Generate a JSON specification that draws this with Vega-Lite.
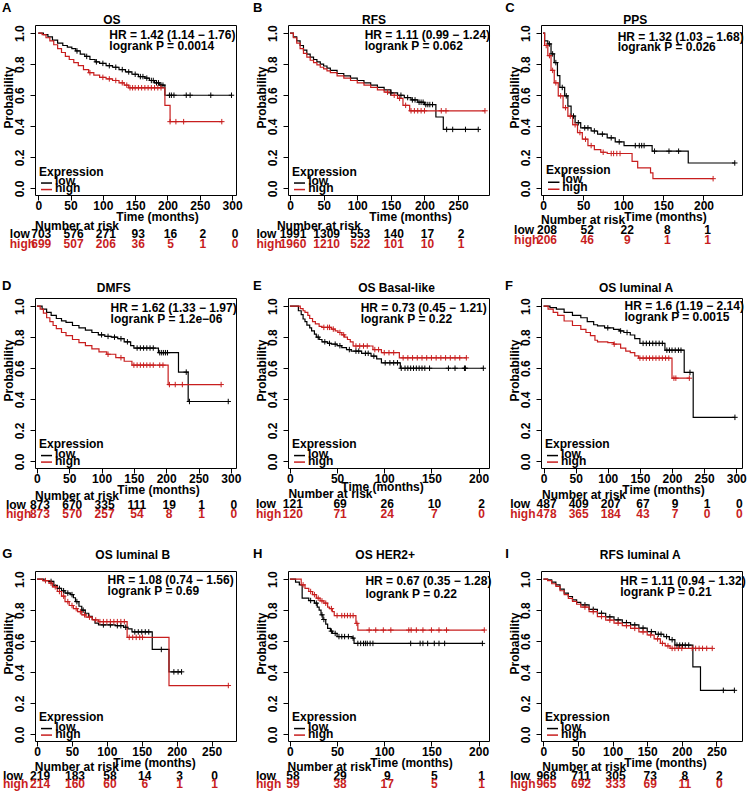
{
"$schema":"https://vega.github.io/schema/vega-lite/v6.json",
"background":"#ffffff",
"padding":{"left":1,"top":1,"right":2,"bottom":0},
"datasets":{
"km":[
{"p":"A","g":"low","t":0,"s":1},{"p":"A","g":"low","t":8,"s":0.99},{"p":"A","g":"low","t":15,"s":0.975},{"p":"A","g":"low","t":22,"s":0.955},{"p":"A","g":"low","t":30,"s":0.935},{"p":"A","g":"low","t":38,"s":0.92},{"p":"A","g":"low","t":45,"s":0.91},{"p":"A","g":"low","t":52,"s":0.9},{"p":"A","g":"low","t":58,"s":0.885},{"p":"A","g":"low","t":65,"s":0.865},{"p":"A","g":"low","t":72,"s":0.85},{"p":"A","g":"low","t":80,"s":0.83},{"p":"A","g":"low","t":88,"s":0.815},{"p":"A","g":"low","t":95,"s":0.805},{"p":"A","g":"low","t":105,"s":0.79},{"p":"A","g":"low","t":115,"s":0.78},{"p":"A","g":"low","t":125,"s":0.765},{"p":"A","g":"low","t":135,"s":0.75},{"p":"A","g":"low","t":145,"s":0.735},{"p":"A","g":"low","t":155,"s":0.72},{"p":"A","g":"low","t":165,"s":0.71},{"p":"A","g":"low","t":172,"s":0.695},{"p":"A","g":"low","t":180,"s":0.68},{"p":"A","g":"low","t":188,"s":0.665},{"p":"A","g":"low","t":196,"s":0.6},{"p":"A","g":"low","t":300,"s":0.6},
{"p":"A","g":"high","t":0,"s":1},{"p":"A","g":"high","t":6,"s":0.99},{"p":"A","g":"high","t":12,"s":0.97},{"p":"A","g":"high","t":18,"s":0.95},{"p":"A","g":"high","t":24,"s":0.925},{"p":"A","g":"high","t":30,"s":0.9},{"p":"A","g":"high","t":36,"s":0.875},{"p":"A","g":"high","t":42,"s":0.85},{"p":"A","g":"high","t":48,"s":0.83},{"p":"A","g":"high","t":55,"s":0.81},{"p":"A","g":"high","t":62,"s":0.79},{"p":"A","g":"high","t":70,"s":0.765},{"p":"A","g":"high","t":78,"s":0.745},{"p":"A","g":"high","t":86,"s":0.73},{"p":"A","g":"high","t":95,"s":0.715},{"p":"A","g":"high","t":105,"s":0.705},{"p":"A","g":"high","t":115,"s":0.695},{"p":"A","g":"high","t":125,"s":0.68},{"p":"A","g":"high","t":133,"s":0.665},{"p":"A","g":"high","t":140,"s":0.648},{"p":"A","g":"high","t":196,"s":0.535},{"p":"A","g":"high","t":204,"s":0.43},{"p":"A","g":"high","t":285,"s":0.43},
{"p":"B","g":"low","t":0,"s":1},{"p":"B","g":"low","t":5,"s":0.975},{"p":"B","g":"low","t":10,"s":0.95},{"p":"B","g":"low","t":15,"s":0.92},{"p":"B","g":"low","t":20,"s":0.89},{"p":"B","g":"low","t":25,"s":0.865},{"p":"B","g":"low","t":30,"s":0.845},{"p":"B","g":"low","t":35,"s":0.83},{"p":"B","g":"low","t":40,"s":0.815},{"p":"B","g":"low","t":45,"s":0.8},{"p":"B","g":"low","t":50,"s":0.788},{"p":"B","g":"low","t":55,"s":0.775},{"p":"B","g":"low","t":60,"s":0.76},{"p":"B","g":"low","t":70,"s":0.74},{"p":"B","g":"low","t":80,"s":0.725},{"p":"B","g":"low","t":90,"s":0.71},{"p":"B","g":"low","t":100,"s":0.695},{"p":"B","g":"low","t":110,"s":0.68},{"p":"B","g":"low","t":120,"s":0.665},{"p":"B","g":"low","t":130,"s":0.65},{"p":"B","g":"low","t":140,"s":0.635},{"p":"B","g":"low","t":150,"s":0.615},{"p":"B","g":"low","t":160,"s":0.6},{"p":"B","g":"low","t":170,"s":0.585},{"p":"B","g":"low","t":180,"s":0.57},{"p":"B","g":"low","t":190,"s":0.555},{"p":"B","g":"low","t":200,"s":0.54},{"p":"B","g":"low","t":217,"s":0.46},{"p":"B","g":"low","t":228,"s":0.38},{"p":"B","g":"low","t":280,"s":0.38},
{"p":"B","g":"high","t":0,"s":1},{"p":"B","g":"high","t":5,"s":0.97},{"p":"B","g":"high","t":10,"s":0.935},{"p":"B","g":"high","t":15,"s":0.9},{"p":"B","g":"high","t":20,"s":0.87},{"p":"B","g":"high","t":25,"s":0.845},{"p":"B","g":"high","t":30,"s":0.825},{"p":"B","g":"high","t":35,"s":0.81},{"p":"B","g":"high","t":40,"s":0.795},{"p":"B","g":"high","t":45,"s":0.78},{"p":"B","g":"high","t":50,"s":0.77},{"p":"B","g":"high","t":55,"s":0.757},{"p":"B","g":"high","t":60,"s":0.745},{"p":"B","g":"high","t":70,"s":0.725},{"p":"B","g":"high","t":80,"s":0.71},{"p":"B","g":"high","t":90,"s":0.695},{"p":"B","g":"high","t":100,"s":0.68},{"p":"B","g":"high","t":110,"s":0.665},{"p":"B","g":"high","t":120,"s":0.65},{"p":"B","g":"high","t":130,"s":0.635},{"p":"B","g":"high","t":140,"s":0.62},{"p":"B","g":"high","t":150,"s":0.6},{"p":"B","g":"high","t":160,"s":0.58},{"p":"B","g":"high","t":168,"s":0.535},{"p":"B","g":"high","t":178,"s":0.5},{"p":"B","g":"high","t":290,"s":0.5},
{"p":"C","g":"low","t":0,"s":1},{"p":"C","g":"low","t":2,"s":0.95},{"p":"C","g":"low","t":6,"s":0.93},{"p":"C","g":"low","t":10,"s":0.866},{"p":"C","g":"low","t":14,"s":0.81},{"p":"C","g":"low","t":18,"s":0.726},{"p":"C","g":"low","t":21,"s":0.65},{"p":"C","g":"low","t":27,"s":0.596},{"p":"C","g":"low","t":31,"s":0.53},{"p":"C","g":"low","t":35,"s":0.466},{"p":"C","g":"low","t":40,"s":0.423},{"p":"C","g":"low","t":47,"s":0.39},{"p":"C","g":"low","t":60,"s":0.37},{"p":"C","g":"low","t":68,"s":0.35},{"p":"C","g":"low","t":80,"s":0.326},{"p":"C","g":"low","t":90,"s":0.3},{"p":"C","g":"low","t":101,"s":0.276},{"p":"C","g":"low","t":136,"s":0.24},{"p":"C","g":"low","t":181,"s":0.164},{"p":"C","g":"low","t":239,"s":0.164},
{"p":"C","g":"high","t":0,"s":1},{"p":"C","g":"high","t":2,"s":0.92},{"p":"C","g":"high","t":6,"s":0.855},{"p":"C","g":"high","t":10,"s":0.76},{"p":"C","g":"high","t":14,"s":0.68},{"p":"C","g":"high","t":19,"s":0.596},{"p":"C","g":"high","t":25,"s":0.52},{"p":"C","g":"high","t":31,"s":0.466},{"p":"C","g":"high","t":37,"s":0.41},{"p":"C","g":"high","t":43,"s":0.36},{"p":"C","g":"high","t":49,"s":0.317},{"p":"C","g":"high","t":56,"s":0.276},{"p":"C","g":"high","t":64,"s":0.25},{"p":"C","g":"high","t":72,"s":0.233},{"p":"C","g":"high","t":80,"s":0.225},{"p":"C","g":"high","t":111,"s":0.175},{"p":"C","g":"high","t":118,"s":0.132},{"p":"C","g":"high","t":134,"s":0.1},{"p":"C","g":"high","t":137,"s":0.063},{"p":"C","g":"high","t":212,"s":0.063},
{"p":"D","g":"low","t":0,"s":1},{"p":"D","g":"low","t":8,"s":0.98},{"p":"D","g":"low","t":15,"s":0.96},{"p":"D","g":"low","t":22,"s":0.94},{"p":"D","g":"low","t":30,"s":0.92},{"p":"D","g":"low","t":38,"s":0.905},{"p":"D","g":"low","t":45,"s":0.895},{"p":"D","g":"low","t":55,"s":0.875},{"p":"D","g":"low","t":65,"s":0.86},{"p":"D","g":"low","t":75,"s":0.845},{"p":"D","g":"low","t":85,"s":0.83},{"p":"D","g":"low","t":95,"s":0.815},{"p":"D","g":"low","t":105,"s":0.805},{"p":"D","g":"low","t":115,"s":0.8},{"p":"D","g":"low","t":125,"s":0.79},{"p":"D","g":"low","t":135,"s":0.77},{"p":"D","g":"low","t":145,"s":0.745},{"p":"D","g":"low","t":150,"s":0.73},{"p":"D","g":"low","t":188,"s":0.7},{"p":"D","g":"low","t":219,"s":0.575},{"p":"D","g":"low","t":234,"s":0.386},{"p":"D","g":"low","t":296,"s":0.386},
{"p":"D","g":"high","t":0,"s":1},{"p":"D","g":"high","t":5,"s":0.98},{"p":"D","g":"high","t":10,"s":0.955},{"p":"D","g":"high","t":15,"s":0.925},{"p":"D","g":"high","t":20,"s":0.9},{"p":"D","g":"high","t":25,"s":0.875},{"p":"D","g":"high","t":30,"s":0.855},{"p":"D","g":"high","t":38,"s":0.83},{"p":"D","g":"high","t":45,"s":0.81},{"p":"D","g":"high","t":55,"s":0.785},{"p":"D","g":"high","t":65,"s":0.765},{"p":"D","g":"high","t":75,"s":0.745},{"p":"D","g":"high","t":85,"s":0.725},{"p":"D","g":"high","t":96,"s":0.705},{"p":"D","g":"high","t":108,"s":0.69},{"p":"D","g":"high","t":122,"s":0.668},{"p":"D","g":"high","t":135,"s":0.645},{"p":"D","g":"high","t":147,"s":0.62},{"p":"D","g":"high","t":203,"s":0.495},{"p":"D","g":"high","t":285,"s":0.495},
{"p":"E","g":"low","t":0,"s":1},{"p":"E","g":"low","t":9,"s":0.97},{"p":"E","g":"low","t":12,"s":0.945},{"p":"E","g":"low","t":14,"s":0.917},{"p":"E","g":"low","t":16,"s":0.9},{"p":"E","g":"low","t":18,"s":0.878},{"p":"E","g":"low","t":21,"s":0.86},{"p":"E","g":"low","t":23,"s":0.84},{"p":"E","g":"low","t":26,"s":0.82},{"p":"E","g":"low","t":28,"s":0.8},{"p":"E","g":"low","t":31,"s":0.785},{"p":"E","g":"low","t":34,"s":0.77},{"p":"E","g":"low","t":40,"s":0.76},{"p":"E","g":"low","t":44,"s":0.755},{"p":"E","g":"low","t":50,"s":0.745},{"p":"E","g":"low","t":55,"s":0.733},{"p":"E","g":"low","t":60,"s":0.72},{"p":"E","g":"low","t":65,"s":0.71},{"p":"E","g":"low","t":76,"s":0.696},{"p":"E","g":"low","t":86,"s":0.678},{"p":"E","g":"low","t":92,"s":0.66},{"p":"E","g":"low","t":97,"s":0.635},{"p":"E","g":"low","t":117,"s":0.6},{"p":"E","g":"low","t":205,"s":0.6},
{"p":"E","g":"high","t":0,"s":1},{"p":"E","g":"high","t":11,"s":0.983},{"p":"E","g":"high","t":14,"s":0.97},{"p":"E","g":"high","t":16,"s":0.96},{"p":"E","g":"high","t":19,"s":0.94},{"p":"E","g":"high","t":21,"s":0.92},{"p":"E","g":"high","t":24,"s":0.9},{"p":"E","g":"high","t":27,"s":0.885},{"p":"E","g":"high","t":31,"s":0.87},{"p":"E","g":"high","t":34,"s":0.863},{"p":"E","g":"high","t":44,"s":0.852},{"p":"E","g":"high","t":48,"s":0.84},{"p":"E","g":"high","t":51,"s":0.83},{"p":"E","g":"high","t":55,"s":0.815},{"p":"E","g":"high","t":58,"s":0.8},{"p":"E","g":"high","t":61,"s":0.785},{"p":"E","g":"high","t":64,"s":0.77},{"p":"E","g":"high","t":67,"s":0.743},{"p":"E","g":"high","t":88,"s":0.72},{"p":"E","g":"high","t":97,"s":0.7},{"p":"E","g":"high","t":116,"s":0.667},{"p":"E","g":"high","t":187,"s":0.667},
{"p":"F","g":"low","t":0,"s":1},{"p":"F","g":"low","t":10,"s":0.99},{"p":"F","g":"low","t":20,"s":0.98},{"p":"F","g":"low","t":32,"s":0.96},{"p":"F","g":"low","t":45,"s":0.94},{"p":"F","g":"low","t":58,"s":0.925},{"p":"F","g":"low","t":68,"s":0.9},{"p":"F","g":"low","t":78,"s":0.88},{"p":"F","g":"low","t":84,"s":0.872},{"p":"F","g":"low","t":95,"s":0.86},{"p":"F","g":"low","t":109,"s":0.85},{"p":"F","g":"low","t":118,"s":0.84},{"p":"F","g":"low","t":125,"s":0.83},{"p":"F","g":"low","t":135,"s":0.814},{"p":"F","g":"low","t":142,"s":0.79},{"p":"F","g":"low","t":150,"s":0.76},{"p":"F","g":"low","t":189,"s":0.716},{"p":"F","g":"low","t":219,"s":0.573},{"p":"F","g":"low","t":233,"s":0.284},{"p":"F","g":"low","t":298,"s":0.284},
{"p":"F","g":"high","t":0,"s":1},{"p":"F","g":"high","t":7,"s":0.98},{"p":"F","g":"high","t":15,"s":0.96},{"p":"F","g":"high","t":22,"s":0.94},{"p":"F","g":"high","t":32,"s":0.904},{"p":"F","g":"high","t":45,"s":0.875},{"p":"F","g":"high","t":58,"s":0.85},{"p":"F","g":"high","t":66,"s":0.83},{"p":"F","g":"high","t":73,"s":0.81},{"p":"F","g":"high","t":80,"s":0.78},{"p":"F","g":"high","t":84,"s":0.77},{"p":"F","g":"high","t":100,"s":0.765},{"p":"F","g":"high","t":109,"s":0.755},{"p":"F","g":"high","t":120,"s":0.73},{"p":"F","g":"high","t":128,"s":0.71},{"p":"F","g":"high","t":135,"s":0.7},{"p":"F","g":"high","t":142,"s":0.68},{"p":"F","g":"high","t":148,"s":0.665},{"p":"F","g":"high","t":200,"s":0.536},{"p":"F","g":"high","t":227,"s":0.536},
{"p":"G","g":"low","t":0,"s":1},{"p":"G","g":"low","t":10,"s":0.99},{"p":"G","g":"low","t":17,"s":0.985},{"p":"G","g":"low","t":24,"s":0.96},{"p":"G","g":"low","t":29,"s":0.94},{"p":"G","g":"low","t":35,"s":0.925},{"p":"G","g":"low","t":40,"s":0.91},{"p":"G","g":"low","t":48,"s":0.9},{"p":"G","g":"low","t":52,"s":0.88},{"p":"G","g":"low","t":55,"s":0.855},{"p":"G","g":"low","t":60,"s":0.825},{"p":"G","g":"low","t":64,"s":0.8},{"p":"G","g":"low","t":69,"s":0.78},{"p":"G","g":"low","t":74,"s":0.76},{"p":"G","g":"low","t":79,"s":0.74},{"p":"G","g":"low","t":83,"s":0.716},{"p":"G","g":"low","t":88,"s":0.705},{"p":"G","g":"low","t":112,"s":0.7},{"p":"G","g":"low","t":124,"s":0.69},{"p":"G","g":"low","t":130,"s":0.68},{"p":"G","g":"low","t":136,"s":0.66},{"p":"G","g":"low","t":165,"s":0.547},{"p":"G","g":"low","t":189,"s":0.403},{"p":"G","g":"low","t":207,"s":0.403},
{"p":"G","g":"high","t":0,"s":1},{"p":"G","g":"high","t":8,"s":0.99},{"p":"G","g":"high","t":17,"s":0.974},{"p":"G","g":"high","t":22,"s":0.95},{"p":"G","g":"high","t":29,"s":0.92},{"p":"G","g":"high","t":35,"s":0.89},{"p":"G","g":"high","t":40,"s":0.855},{"p":"G","g":"high","t":46,"s":0.83},{"p":"G","g":"high","t":52,"s":0.81},{"p":"G","g":"high","t":58,"s":0.79},{"p":"G","g":"high","t":64,"s":0.77},{"p":"G","g":"high","t":70,"s":0.755},{"p":"G","g":"high","t":79,"s":0.737},{"p":"G","g":"high","t":88,"s":0.726},{"p":"G","g":"high","t":129,"s":0.625},{"p":"G","g":"high","t":189,"s":0.315},{"p":"G","g":"high","t":274,"s":0.315},
{"p":"H","g":"low","t":0,"s":1},{"p":"H","g":"low","t":6,"s":0.98},{"p":"H","g":"low","t":10,"s":0.963},{"p":"H","g":"low","t":13,"s":0.877},{"p":"H","g":"low","t":20,"s":0.862},{"p":"H","g":"low","t":26,"s":0.845},{"p":"H","g":"low","t":29,"s":0.82},{"p":"H","g":"low","t":31,"s":0.8},{"p":"H","g":"low","t":33,"s":0.77},{"p":"H","g":"low","t":35,"s":0.74},{"p":"H","g":"low","t":38,"s":0.71},{"p":"H","g":"low","t":40,"s":0.683},{"p":"H","g":"low","t":43,"s":0.665},{"p":"H","g":"low","t":45,"s":0.65},{"p":"H","g":"low","t":50,"s":0.63},{"p":"H","g":"low","t":66,"s":0.62},{"p":"H","g":"low","t":68,"s":0.586},{"p":"H","g":"low","t":204,"s":0.586},
{"p":"H","g":"high","t":0,"s":1},{"p":"H","g":"high","t":12,"s":0.963},{"p":"H","g":"high","t":16,"s":0.94},{"p":"H","g":"high","t":20,"s":0.92},{"p":"H","g":"high","t":24,"s":0.9},{"p":"H","g":"high","t":28,"s":0.877},{"p":"H","g":"high","t":32,"s":0.86},{"p":"H","g":"high","t":36,"s":0.845},{"p":"H","g":"high","t":40,"s":0.82},{"p":"H","g":"high","t":42,"s":0.81},{"p":"H","g":"high","t":45,"s":0.79},{"p":"H","g":"high","t":47,"s":0.765},{"p":"H","g":"high","t":70,"s":0.715},{"p":"H","g":"high","t":72,"s":0.672},{"p":"H","g":"high","t":206,"s":0.672},
{"p":"I","g":"low","t":0,"s":1},{"p":"I","g":"low","t":6,"s":0.995},{"p":"I","g":"low","t":12,"s":0.98},{"p":"I","g":"low","t":18,"s":0.963},{"p":"I","g":"low","t":24,"s":0.935},{"p":"I","g":"low","t":30,"s":0.91},{"p":"I","g":"low","t":36,"s":0.888},{"p":"I","g":"low","t":42,"s":0.866},{"p":"I","g":"low","t":48,"s":0.85},{"p":"I","g":"low","t":54,"s":0.834},{"p":"I","g":"low","t":66,"s":0.805},{"p":"I","g":"low","t":78,"s":0.78},{"p":"I","g":"low","t":90,"s":0.757},{"p":"I","g":"low","t":102,"s":0.737},{"p":"I","g":"low","t":114,"s":0.72},{"p":"I","g":"low","t":126,"s":0.705},{"p":"I","g":"low","t":138,"s":0.685},{"p":"I","g":"low","t":150,"s":0.662},{"p":"I","g":"low","t":162,"s":0.645},{"p":"I","g":"low","t":174,"s":0.63},{"p":"I","g":"low","t":182,"s":0.61},{"p":"I","g":"low","t":190,"s":0.575},{"p":"I","g":"low","t":216,"s":0.435},{"p":"I","g":"low","t":227,"s":0.284},{"p":"I","g":"low","t":276,"s":0.284},
{"p":"I","g":"high","t":0,"s":1},{"p":"I","g":"high","t":6,"s":0.99},{"p":"I","g":"high","t":12,"s":0.97},{"p":"I","g":"high","t":18,"s":0.953},{"p":"I","g":"high","t":24,"s":0.925},{"p":"I","g":"high","t":30,"s":0.9},{"p":"I","g":"high","t":36,"s":0.876},{"p":"I","g":"high","t":42,"s":0.856},{"p":"I","g":"high","t":48,"s":0.838},{"p":"I","g":"high","t":54,"s":0.82},{"p":"I","g":"high","t":66,"s":0.79},{"p":"I","g":"high","t":78,"s":0.759},{"p":"I","g":"high","t":90,"s":0.736},{"p":"I","g":"high","t":102,"s":0.716},{"p":"I","g":"high","t":114,"s":0.7},{"p":"I","g":"high","t":126,"s":0.683},{"p":"I","g":"high","t":138,"s":0.66},{"p":"I","g":"high","t":150,"s":0.64},{"p":"I","g":"high","t":160,"s":0.615},{"p":"I","g":"high","t":169,"s":0.586},{"p":"I","g":"high","t":176,"s":0.57},{"p":"I","g":"high","t":183,"s":0.554},{"p":"I","g":"high","t":244,"s":0.554}
],
"cens":[
{"p":"A","g":"low","t":60,"s":0.885},{"p":"A","g":"low","t":75,"s":0.85},{"p":"A","g":"low","t":90,"s":0.815},{"p":"A","g":"low","t":100,"s":0.805},{"p":"A","g":"low","t":110,"s":0.79},{"p":"A","g":"low","t":120,"s":0.78},{"p":"A","g":"low","t":130,"s":0.765},{"p":"A","g":"low","t":140,"s":0.75},{"p":"A","g":"low","t":150,"s":0.735},{"p":"A","g":"low","t":158,"s":0.72},{"p":"A","g":"low","t":162,"s":0.72},{"p":"A","g":"low","t":168,"s":0.71},{"p":"A","g":"low","t":175,"s":0.695},{"p":"A","g":"low","t":178,"s":0.695},{"p":"A","g":"low","t":183,"s":0.68},{"p":"A","g":"low","t":186,"s":0.68},{"p":"A","g":"low","t":190,"s":0.665},{"p":"A","g":"low","t":193,"s":0.665},{"p":"A","g":"low","t":203,"s":0.6},{"p":"A","g":"low","t":206,"s":0.6},{"p":"A","g":"low","t":210,"s":0.6},{"p":"A","g":"low","t":229,"s":0.6},{"p":"A","g":"low","t":235,"s":0.6},{"p":"A","g":"low","t":267,"s":0.6},{"p":"A","g":"low","t":299,"s":0.6},
{"p":"A","g":"high","t":80,"s":0.745},{"p":"A","g":"high","t":100,"s":0.715},{"p":"A","g":"high","t":110,"s":0.705},{"p":"A","g":"high","t":120,"s":0.695},{"p":"A","g":"high","t":130,"s":0.68},{"p":"A","g":"high","t":137,"s":0.665},{"p":"A","g":"high","t":142,"s":0.648},{"p":"A","g":"high","t":146,"s":0.648},{"p":"A","g":"high","t":150,"s":0.648},{"p":"A","g":"high","t":155,"s":0.648},{"p":"A","g":"high","t":160,"s":0.648},{"p":"A","g":"high","t":165,"s":0.648},{"p":"A","g":"high","t":170,"s":0.648},{"p":"A","g":"high","t":175,"s":0.648},{"p":"A","g":"high","t":180,"s":0.648},{"p":"A","g":"high","t":185,"s":0.648},{"p":"A","g":"high","t":190,"s":0.648},{"p":"A","g":"high","t":204,"s":0.43},{"p":"A","g":"high","t":213,"s":0.43},{"p":"A","g":"high","t":225,"s":0.43},{"p":"A","g":"high","t":284,"s":0.43},
{"p":"B","g":"low","t":150,"s":0.615},{"p":"B","g":"low","t":165,"s":0.6},{"p":"B","g":"low","t":175,"s":0.585},{"p":"B","g":"low","t":182,"s":0.57},{"p":"B","g":"low","t":186,"s":0.57},{"p":"B","g":"low","t":192,"s":0.555},{"p":"B","g":"low","t":195,"s":0.555},{"p":"B","g":"low","t":198,"s":0.555},{"p":"B","g":"low","t":202,"s":0.54},{"p":"B","g":"low","t":205,"s":0.54},{"p":"B","g":"low","t":208,"s":0.54},{"p":"B","g":"low","t":212,"s":0.54},{"p":"B","g":"low","t":233,"s":0.38},{"p":"B","g":"low","t":242,"s":0.38},{"p":"B","g":"low","t":261,"s":0.38},{"p":"B","g":"low","t":280,"s":0.38},
{"p":"B","g":"high","t":145,"s":0.62},{"p":"B","g":"high","t":155,"s":0.6},{"p":"B","g":"high","t":163,"s":0.58},{"p":"B","g":"high","t":172,"s":0.535},{"p":"B","g":"high","t":180,"s":0.5},{"p":"B","g":"high","t":185,"s":0.5},{"p":"B","g":"high","t":190,"s":0.5},{"p":"B","g":"high","t":195,"s":0.5},{"p":"B","g":"high","t":200,"s":0.5},{"p":"B","g":"high","t":225,"s":0.5},{"p":"B","g":"high","t":232,"s":0.5},{"p":"B","g":"high","t":290,"s":0.5},
{"p":"C","g":"low","t":8,"s":0.93},{"p":"C","g":"low","t":12,"s":0.866},{"p":"C","g":"low","t":16,"s":0.81},{"p":"C","g":"low","t":24,"s":0.65},{"p":"C","g":"low","t":29,"s":0.596},{"p":"C","g":"low","t":38,"s":0.466},{"p":"C","g":"low","t":44,"s":0.423},{"p":"C","g":"low","t":52,"s":0.39},{"p":"C","g":"low","t":56,"s":0.39},{"p":"C","g":"low","t":64,"s":0.37},{"p":"C","g":"low","t":74,"s":0.35},{"p":"C","g":"low","t":85,"s":0.326},{"p":"C","g":"low","t":95,"s":0.3},{"p":"C","g":"low","t":115,"s":0.276},{"p":"C","g":"low","t":120,"s":0.276},{"p":"C","g":"low","t":123,"s":0.276},{"p":"C","g":"low","t":126,"s":0.276},{"p":"C","g":"low","t":139,"s":0.24},{"p":"C","g":"low","t":157,"s":0.24},{"p":"C","g":"low","t":169,"s":0.24},{"p":"C","g":"low","t":239,"s":0.164},
{"p":"C","g":"high","t":4,"s":0.92},{"p":"C","g":"high","t":8,"s":0.855},{"p":"C","g":"high","t":12,"s":0.76},{"p":"C","g":"high","t":16,"s":0.68},{"p":"C","g":"high","t":22,"s":0.596},{"p":"C","g":"high","t":28,"s":0.52},{"p":"C","g":"high","t":34,"s":0.466},{"p":"C","g":"high","t":40,"s":0.41},{"p":"C","g":"high","t":46,"s":0.36},{"p":"C","g":"high","t":53,"s":0.317},{"p":"C","g":"high","t":60,"s":0.276},{"p":"C","g":"high","t":75,"s":0.233},{"p":"C","g":"high","t":85,"s":0.225},{"p":"C","g":"high","t":88,"s":0.225},{"p":"C","g":"high","t":92,"s":0.225},{"p":"C","g":"high","t":96,"s":0.225},{"p":"C","g":"high","t":212,"s":0.063},
{"p":"D","g":"low","t":100,"s":0.815},{"p":"D","g":"low","t":110,"s":0.805},{"p":"D","g":"low","t":120,"s":0.8},{"p":"D","g":"low","t":130,"s":0.79},{"p":"D","g":"low","t":140,"s":0.77},{"p":"D","g":"low","t":155,"s":0.73},{"p":"D","g":"low","t":160,"s":0.73},{"p":"D","g":"low","t":165,"s":0.73},{"p":"D","g":"low","t":170,"s":0.73},{"p":"D","g":"low","t":175,"s":0.73},{"p":"D","g":"low","t":180,"s":0.73},{"p":"D","g":"low","t":190,"s":0.7},{"p":"D","g":"low","t":193,"s":0.7},{"p":"D","g":"low","t":196,"s":0.7},{"p":"D","g":"low","t":199,"s":0.7},{"p":"D","g":"low","t":202,"s":0.7},{"p":"D","g":"low","t":231,"s":0.575},{"p":"D","g":"low","t":236,"s":0.386},{"p":"D","g":"low","t":296,"s":0.386},
{"p":"D","g":"high","t":110,"s":0.69},{"p":"D","g":"high","t":130,"s":0.668},{"p":"D","g":"high","t":150,"s":0.62},{"p":"D","g":"high","t":155,"s":0.62},{"p":"D","g":"high","t":160,"s":0.62},{"p":"D","g":"high","t":165,"s":0.62},{"p":"D","g":"high","t":170,"s":0.62},{"p":"D","g":"high","t":175,"s":0.62},{"p":"D","g":"high","t":180,"s":0.62},{"p":"D","g":"high","t":190,"s":0.62},{"p":"D","g":"high","t":195,"s":0.62},{"p":"D","g":"high","t":205,"s":0.495},{"p":"D","g":"high","t":214,"s":0.495},{"p":"D","g":"high","t":225,"s":0.495},{"p":"D","g":"high","t":285,"s":0.495},
{"p":"E","g":"low","t":30,"s":0.8},{"p":"E","g":"low","t":37,"s":0.77},{"p":"E","g":"low","t":42,"s":0.76},{"p":"E","g":"low","t":48,"s":0.755},{"p":"E","g":"low","t":53,"s":0.745},{"p":"E","g":"low","t":63,"s":0.72},{"p":"E","g":"low","t":70,"s":0.71},{"p":"E","g":"low","t":73,"s":0.71},{"p":"E","g":"low","t":80,"s":0.696},{"p":"E","g":"low","t":83,"s":0.696},{"p":"E","g":"low","t":89,"s":0.678},{"p":"E","g":"low","t":101,"s":0.635},{"p":"E","g":"low","t":106,"s":0.635},{"p":"E","g":"low","t":110,"s":0.635},{"p":"E","g":"low","t":114,"s":0.635},{"p":"E","g":"low","t":118,"s":0.6},{"p":"E","g":"low","t":122,"s":0.6},{"p":"E","g":"low","t":125,"s":0.6},{"p":"E","g":"low","t":128,"s":0.6},{"p":"E","g":"low","t":131,"s":0.6},{"p":"E","g":"low","t":134,"s":0.6},{"p":"E","g":"low","t":137,"s":0.6},{"p":"E","g":"low","t":140,"s":0.6},{"p":"E","g":"low","t":143,"s":0.6},{"p":"E","g":"low","t":148,"s":0.6},{"p":"E","g":"low","t":168,"s":0.6},{"p":"E","g":"low","t":175,"s":0.6},{"p":"E","g":"low","t":185,"s":0.6},{"p":"E","g":"low","t":186,"s":0.6},{"p":"E","g":"low","t":205,"s":0.6},
{"p":"E","g":"high","t":36,"s":0.863},{"p":"E","g":"high","t":40,"s":0.863},{"p":"E","g":"high","t":42,"s":0.863},{"p":"E","g":"high","t":46,"s":0.852},{"p":"E","g":"high","t":53,"s":0.83},{"p":"E","g":"high","t":57,"s":0.815},{"p":"E","g":"high","t":70,"s":0.743},{"p":"E","g":"high","t":74,"s":0.743},{"p":"E","g":"high","t":78,"s":0.743},{"p":"E","g":"high","t":82,"s":0.743},{"p":"E","g":"high","t":90,"s":0.72},{"p":"E","g":"high","t":94,"s":0.72},{"p":"E","g":"high","t":100,"s":0.7},{"p":"E","g":"high","t":105,"s":0.7},{"p":"E","g":"high","t":110,"s":0.7},{"p":"E","g":"high","t":120,"s":0.667},{"p":"E","g":"high","t":125,"s":0.667},{"p":"E","g":"high","t":130,"s":0.667},{"p":"E","g":"high","t":135,"s":0.667},{"p":"E","g":"high","t":140,"s":0.667},{"p":"E","g":"high","t":145,"s":0.667},{"p":"E","g":"high","t":150,"s":0.667},{"p":"E","g":"high","t":155,"s":0.667},{"p":"E","g":"high","t":160,"s":0.667},{"p":"E","g":"high","t":165,"s":0.667},{"p":"E","g":"high","t":170,"s":0.667},{"p":"E","g":"high","t":175,"s":0.667},{"p":"E","g":"high","t":180,"s":0.667},{"p":"E","g":"high","t":187,"s":0.667},
{"p":"F","g":"low","t":100,"s":0.86},{"p":"F","g":"low","t":120,"s":0.84},{"p":"F","g":"low","t":130,"s":0.83},{"p":"F","g":"low","t":155,"s":0.76},{"p":"F","g":"low","t":160,"s":0.76},{"p":"F","g":"low","t":165,"s":0.76},{"p":"F","g":"low","t":170,"s":0.76},{"p":"F","g":"low","t":175,"s":0.76},{"p":"F","g":"low","t":180,"s":0.76},{"p":"F","g":"low","t":185,"s":0.76},{"p":"F","g":"low","t":192,"s":0.716},{"p":"F","g":"low","t":196,"s":0.716},{"p":"F","g":"low","t":200,"s":0.716},{"p":"F","g":"low","t":205,"s":0.716},{"p":"F","g":"low","t":210,"s":0.716},{"p":"F","g":"low","t":214,"s":0.716},{"p":"F","g":"low","t":228,"s":0.573},{"p":"F","g":"low","t":298,"s":0.284},
{"p":"F","g":"high","t":110,"s":0.755},{"p":"F","g":"high","t":150,"s":0.665},{"p":"F","g":"high","t":155,"s":0.665},{"p":"F","g":"high","t":160,"s":0.665},{"p":"F","g":"high","t":165,"s":0.665},{"p":"F","g":"high","t":170,"s":0.665},{"p":"F","g":"high","t":175,"s":0.665},{"p":"F","g":"high","t":180,"s":0.665},{"p":"F","g":"high","t":185,"s":0.665},{"p":"F","g":"high","t":190,"s":0.665},{"p":"F","g":"high","t":195,"s":0.665},{"p":"F","g":"high","t":203,"s":0.536},{"p":"F","g":"high","t":206,"s":0.536},{"p":"F","g":"high","t":227,"s":0.536},
{"p":"G","g":"low","t":20,"s":0.985},{"p":"G","g":"low","t":32,"s":0.94},{"p":"G","g":"low","t":38,"s":0.925},{"p":"G","g":"low","t":44,"s":0.91},{"p":"G","g":"low","t":50,"s":0.9},{"p":"G","g":"low","t":57,"s":0.855},{"p":"G","g":"low","t":66,"s":0.8},{"p":"G","g":"low","t":95,"s":0.705},{"p":"G","g":"low","t":105,"s":0.705},{"p":"G","g":"low","t":115,"s":0.7},{"p":"G","g":"low","t":120,"s":0.7},{"p":"G","g":"low","t":127,"s":0.69},{"p":"G","g":"low","t":140,"s":0.66},{"p":"G","g":"low","t":145,"s":0.66},{"p":"G","g":"low","t":150,"s":0.66},{"p":"G","g":"low","t":155,"s":0.66},{"p":"G","g":"low","t":160,"s":0.66},{"p":"G","g":"low","t":178,"s":0.547},{"p":"G","g":"low","t":196,"s":0.403},{"p":"G","g":"low","t":202,"s":0.403},{"p":"G","g":"low","t":207,"s":0.403},
{"p":"G","g":"high","t":12,"s":0.99},{"p":"G","g":"high","t":20,"s":0.974},{"p":"G","g":"high","t":26,"s":0.95},{"p":"G","g":"high","t":32,"s":0.92},{"p":"G","g":"high","t":38,"s":0.89},{"p":"G","g":"high","t":44,"s":0.855},{"p":"G","g":"high","t":50,"s":0.83},{"p":"G","g":"high","t":56,"s":0.81},{"p":"G","g":"high","t":62,"s":0.79},{"p":"G","g":"high","t":68,"s":0.77},{"p":"G","g":"high","t":75,"s":0.755},{"p":"G","g":"high","t":84,"s":0.737},{"p":"G","g":"high","t":90,"s":0.726},{"p":"G","g":"high","t":95,"s":0.726},{"p":"G","g":"high","t":100,"s":0.726},{"p":"G","g":"high","t":105,"s":0.726},{"p":"G","g":"high","t":110,"s":0.726},{"p":"G","g":"high","t":115,"s":0.726},{"p":"G","g":"high","t":120,"s":0.726},{"p":"G","g":"high","t":125,"s":0.726},{"p":"G","g":"high","t":132,"s":0.625},{"p":"G","g":"high","t":137,"s":0.625},{"p":"G","g":"high","t":142,"s":0.625},{"p":"G","g":"high","t":147,"s":0.625},{"p":"G","g":"high","t":151,"s":0.625},{"p":"G","g":"high","t":274,"s":0.315},
{"p":"H","g":"low","t":22,"s":0.862},{"p":"H","g":"low","t":28,"s":0.845},{"p":"H","g":"low","t":34,"s":0.77},{"p":"H","g":"low","t":36,"s":0.74},{"p":"H","g":"low","t":44,"s":0.665},{"p":"H","g":"low","t":48,"s":0.65},{"p":"H","g":"low","t":52,"s":0.63},{"p":"H","g":"low","t":55,"s":0.63},{"p":"H","g":"low","t":58,"s":0.63},{"p":"H","g":"low","t":62,"s":0.63},{"p":"H","g":"low","t":67,"s":0.62},{"p":"H","g":"low","t":72,"s":0.586},{"p":"H","g":"low","t":75,"s":0.586},{"p":"H","g":"low","t":78,"s":0.586},{"p":"H","g":"low","t":80,"s":0.586},{"p":"H","g":"low","t":82,"s":0.586},{"p":"H","g":"low","t":85,"s":0.586},{"p":"H","g":"low","t":88,"s":0.586},{"p":"H","g":"low","t":128,"s":0.586},{"p":"H","g":"low","t":138,"s":0.586},{"p":"H","g":"low","t":141,"s":0.586},{"p":"H","g":"low","t":146,"s":0.586},{"p":"H","g":"low","t":153,"s":0.586},{"p":"H","g":"low","t":158,"s":0.586},{"p":"H","g":"low","t":164,"s":0.586},{"p":"H","g":"low","t":204,"s":0.586},
{"p":"H","g":"high","t":14,"s":0.963},{"p":"H","g":"high","t":22,"s":0.92},{"p":"H","g":"high","t":26,"s":0.9},{"p":"H","g":"high","t":30,"s":0.877},{"p":"H","g":"high","t":34,"s":0.86},{"p":"H","g":"high","t":38,"s":0.845},{"p":"H","g":"high","t":44,"s":0.81},{"p":"H","g":"high","t":50,"s":0.765},{"p":"H","g":"high","t":55,"s":0.765},{"p":"H","g":"high","t":58,"s":0.765},{"p":"H","g":"high","t":61,"s":0.765},{"p":"H","g":"high","t":64,"s":0.765},{"p":"H","g":"high","t":67,"s":0.765},{"p":"H","g":"high","t":71,"s":0.715},{"p":"H","g":"high","t":84,"s":0.672},{"p":"H","g":"high","t":91,"s":0.672},{"p":"H","g":"high","t":99,"s":0.672},{"p":"H","g":"high","t":107,"s":0.672},{"p":"H","g":"high","t":126,"s":0.672},{"p":"H","g":"high","t":128.5,"s":0.672},{"p":"H","g":"high","t":134,"s":0.672},{"p":"H","g":"high","t":141,"s":0.672},{"p":"H","g":"high","t":150,"s":0.672},{"p":"H","g":"high","t":158,"s":0.672},{"p":"H","g":"high","t":166,"s":0.672},{"p":"H","g":"high","t":206,"s":0.672},
{"p":"I","g":"low","t":60,"s":0.834},{"p":"I","g":"low","t":72,"s":0.805},{"p":"I","g":"low","t":84,"s":0.78},{"p":"I","g":"low","t":96,"s":0.757},{"p":"I","g":"low","t":108,"s":0.737},{"p":"I","g":"low","t":120,"s":0.72},{"p":"I","g":"low","t":132,"s":0.705},{"p":"I","g":"low","t":144,"s":0.685},{"p":"I","g":"low","t":156,"s":0.662},{"p":"I","g":"low","t":166,"s":0.645},{"p":"I","g":"low","t":170,"s":0.645},{"p":"I","g":"low","t":178,"s":0.63},{"p":"I","g":"low","t":186,"s":0.61},{"p":"I","g":"low","t":193,"s":0.575},{"p":"I","g":"low","t":197,"s":0.575},{"p":"I","g":"low","t":201,"s":0.575},{"p":"I","g":"low","t":205,"s":0.575},{"p":"I","g":"low","t":210,"s":0.575},{"p":"I","g":"low","t":260,"s":0.284},{"p":"I","g":"low","t":276,"s":0.284},
{"p":"I","g":"high","t":60,"s":0.82},{"p":"I","g":"high","t":72,"s":0.79},{"p":"I","g":"high","t":84,"s":0.759},{"p":"I","g":"high","t":96,"s":0.736},{"p":"I","g":"high","t":108,"s":0.716},{"p":"I","g":"high","t":120,"s":0.7},{"p":"I","g":"high","t":132,"s":0.683},{"p":"I","g":"high","t":144,"s":0.66},{"p":"I","g":"high","t":155,"s":0.64},{"p":"I","g":"high","t":165,"s":0.615},{"p":"I","g":"high","t":172,"s":0.586},{"p":"I","g":"high","t":180,"s":0.57},{"p":"I","g":"high","t":186,"s":0.554},{"p":"I","g":"high","t":190,"s":0.554},{"p":"I","g":"high","t":195,"s":0.554},{"p":"I","g":"high","t":200,"s":0.554},{"p":"I","g":"high","t":215,"s":0.554},{"p":"I","g":"high","t":220,"s":0.554},{"p":"I","g":"high","t":225,"s":0.554},{"p":"I","g":"high","t":230,"s":0.554},{"p":"I","g":"high","t":236,"s":0.554},{"p":"I","g":"high","t":244,"s":0.554}
],
"notes":[
{"p":"A","letter":"A","title":"OS","hr":"HR = 1.42 (1.14 − 1.76)","lr":"logrank P = 0.0014"},
{"p":"B","letter":"B","title":"RFS","hr":"HR = 1.11 (0.99 − 1.24)","lr":"logrank P = 0.062"},
{"p":"C","letter":"C","title":"PPS","hr":"HR = 1.32 (1.03 − 1.68)","lr":"logrank P = 0.026"},
{"p":"D","letter":"D","title":"DMFS","hr":"HR = 1.62 (1.33 − 1.97)","lr":"logrank P = 1.2e−06"},
{"p":"E","letter":"E","title":"OS Basal-like","hr":"HR = 0.73 (0.45 − 1.21)","lr":"logrank P = 0.22"},
{"p":"F","letter":"F","title":"OS luminal A","hr":"HR = 1.6 (1.19 − 2.14)","lr":"logrank P = 0.0015"},
{"p":"G","letter":"G","title":"OS luminal B","hr":"HR = 1.08 (0.74 − 1.56)","lr":"logrank P = 0.69"},
{"p":"H","letter":"H","title":"OS HER2+","hr":"HR = 0.67 (0.35 − 1.28)","lr":"logrank P = 0.22"},
{"p":"I","letter":"I","title":"RFS luminal A","hr":"HR = 1.11 (0.94 − 1.32)","lr":"logrank P = 0.21"}
],
"risk":[
{"p":"A","t":0,"low":703,"high":699},{"p":"A","t":50,"low":576,"high":507},{"p":"A","t":100,"low":271,"high":206},{"p":"A","t":150,"low":93,"high":36},{"p":"A","t":200,"low":16,"high":5},{"p":"A","t":250,"low":2,"high":1},{"p":"A","t":300,"low":0,"high":0},
{"p":"B","t":0,"low":1991,"high":1960},{"p":"B","t":50,"low":1309,"high":1210},{"p":"B","t":100,"low":553,"high":522},{"p":"B","t":150,"low":140,"high":101},{"p":"B","t":200,"low":17,"high":10},{"p":"B","t":250,"low":2,"high":1},
{"p":"C","t":0,"low":208,"high":206},{"p":"C","t":50,"low":52,"high":46},{"p":"C","t":100,"low":22,"high":9},{"p":"C","t":150,"low":8,"high":1},{"p":"C","t":200,"low":1,"high":1},
{"p":"D","t":0,"low":873,"high":873},{"p":"D","t":50,"low":670,"high":570},{"p":"D","t":100,"low":335,"high":257},{"p":"D","t":150,"low":111,"high":54},{"p":"D","t":200,"low":19,"high":8},{"p":"D","t":250,"low":1,"high":1},{"p":"D","t":300,"low":0,"high":0},
{"p":"E","t":0,"low":121,"high":120},{"p":"E","t":50,"low":69,"high":71},{"p":"E","t":100,"low":26,"high":24},{"p":"E","t":150,"low":10,"high":7},{"p":"E","t":200,"low":2,"high":0},
{"p":"F","t":0,"low":487,"high":478},{"p":"F","t":50,"low":409,"high":365},{"p":"F","t":100,"low":207,"high":184},{"p":"F","t":150,"low":67,"high":43},{"p":"F","t":200,"low":9,"high":7},{"p":"F","t":250,"low":1,"high":0},{"p":"F","t":300,"low":0,"high":0},
{"p":"G","t":0,"low":219,"high":214},{"p":"G","t":50,"low":183,"high":160},{"p":"G","t":100,"low":58,"high":60},{"p":"G","t":150,"low":14,"high":6},{"p":"G","t":200,"low":3,"high":1},{"p":"G","t":250,"low":0,"high":1},
{"p":"H","t":0,"low":58,"high":59},{"p":"H","t":50,"low":29,"high":38},{"p":"H","t":100,"low":9,"high":17},{"p":"H","t":150,"low":5,"high":5},{"p":"H","t":200,"low":1,"high":1},
{"p":"I","t":0,"low":968,"high":965},{"p":"I","t":50,"low":711,"high":692},{"p":"I","t":100,"low":305,"high":333},{"p":"I","t":150,"low":73,"high":69},{"p":"I","t":200,"low":8,"high":11},{"p":"I","t":250,"low":2,"high":0}
]
},
"columns":3,
"spacing":{"row":103,"column":52},
"bounds":"flush",
"align":"all",
"resolve":{"scale":{"color":"independent"}},
"concat":[
{"width":201,"height":170,"layer":[
{"data":{"name":"km"},"transform":[{"filter":"datum.p=='A'"}],"mark":"line","encoding":{"x":{"field":"t","type":"quantitative","scale":{"domain":[-5,306],"nice":false,"zero":false},"axis":{"values":[0,50,100,150,200,250,300],"tickCount":20,"title":"Time (months)","titleX":122}},"y":{"field":"s","type":"quantitative","scale":{"domain":[-0.042,1.052],"nice":false,"zero":false},"axis":{"values":[0,0.2,0.4,0.6,0.8,1],"tickCount":20,"format":".1f","title":"Probability","titleY":72,"labelOverlap":false}},"color":{"field":"g","type":"nominal","scale":{"domain":["low","high"],"range":["#000000","#c81e1e"]},"legend":null}}},
{"data":{"name":"cens"},"transform":[{"filter":"datum.p=='A'"}],"mark":"point","encoding":{"x":{"field":"t","type":"quantitative"},"y":{"field":"s","type":"quantitative"},"color":{"field":"g","type":"nominal"}}},
{"data":{"name":"notes"},"transform":[{"filter":"datum.p=='A'"}],"layer":[
{"mark":{"type":"text","align":"left"},"encoding":{"x":{"datum":110},"y":{"datum":0.99},"text":{"field":"hr"}}},
{"mark":{"type":"text","align":"left"},"encoding":{"x":{"datum":110},"y":{"datum":0.915},"text":{"field":"lr"}}},
{"mark":{"type":"text","align":"left","fontSize":13},"encoding":{"x":{"datum":-56},"y":{"datum":1.16},"text":{"field":"letter"}}},
{"mark":{"type":"text"},"encoding":{"x":{"datum":114},"y":{"datum":1.081},"text":{"field":"title"}}},
{"mark":{"type":"text","align":"left"},"encoding":{"x":{"datum":1.2},"y":{"datum":0.109},"text":{"value":"Expression"}}},
{"mark":{"type":"rule"},"encoding":{"x":{"datum":4.3},"x2":{"datum":21.3},"y":{"datum":0.035},"color":{"datum":"low"}}},
{"mark":{"type":"rule"},"encoding":{"x":{"datum":4.3},"x2":{"datum":21.3},"y":{"datum":-0.007},"color":{"datum":"high"}}},
{"mark":{"type":"text","align":"left"},"encoding":{"x":{"datum":26},"y":{"datum":0.051},"text":{"value":"low"}}},
{"mark":{"type":"text","align":"left"},"encoding":{"x":{"datum":26},"y":{"datum":0.003},"text":{"value":"high"}}},
{"mark":{"type":"text"},"encoding":{"x":{"datum":60},"y":{"datum":-0.24},"text":{"value":"Number at risk"}}},
{"mark":{"type":"text","align":"left"},"encoding":{"x":{"datum":-44},"y":{"datum":-0.29},"text":{"value":"low"},"color":{"datum":"low"}}},
{"mark":{"type":"text","align":"left"},"encoding":{"x":{"datum":-44},"y":{"datum":-0.355},"text":{"value":"high"},"color":{"datum":"high"}}}]},
{"data":{"name":"risk"},"transform":[{"filter":"datum.p=='A'"}],"layer":[
{"mark":{"type":"text","dx":3},"encoding":{"x":{"field":"t","type":"quantitative"},"y":{"datum":-0.29},"text":{"field":"low"},"color":{"datum":"low"}}},
{"mark":{"type":"text","dx":3},"encoding":{"x":{"field":"t","type":"quantitative"},"y":{"datum":-0.355},"text":{"field":"high"},"color":{"datum":"high"}}}]}
]},
{"width":201,"height":170,"layer":[
{"data":{"name":"km"},"transform":[{"filter":"datum.p=='B'"}],"mark":"line","encoding":{"x":{"field":"t","type":"quantitative","scale":{"domain":[-3,296],"nice":false,"zero":false},"axis":{"values":[0,50,100,150,200,250],"tickCount":20,"title":"Time (months)","titleX":122}},"y":{"field":"s","type":"quantitative","scale":{"domain":[-0.042,1.052],"nice":false,"zero":false},"axis":{"values":[0,0.2,0.4,0.6,0.8,1],"tickCount":20,"format":".1f","title":"Probability","titleY":72,"labelOverlap":false}},"color":{"field":"g","type":"nominal","scale":{"domain":["low","high"],"range":["#000000","#c81e1e"]},"legend":null}}},
{"data":{"name":"cens"},"transform":[{"filter":"datum.p=='B'"}],"mark":"point","encoding":{"x":{"field":"t","type":"quantitative"},"y":{"field":"s","type":"quantitative"},"color":{"field":"g","type":"nominal"}}},
{"data":{"name":"notes"},"transform":[{"filter":"datum.p=='B'"}],"layer":[
{"mark":{"type":"text","align":"left"},"encoding":{"x":{"datum":111},"y":{"datum":0.99},"text":{"field":"hr"}}},
{"mark":{"type":"text","align":"left"},"encoding":{"x":{"datum":111},"y":{"datum":0.92},"text":{"field":"lr"}}},
{"mark":{"type":"text","align":"left","fontSize":13},"encoding":{"x":{"datum":-55},"y":{"datum":1.16},"text":{"field":"letter"}}},
{"mark":{"type":"text"},"encoding":{"x":{"datum":125},"y":{"datum":1.081},"text":{"field":"title"}}},
{"mark":{"type":"text","align":"left"},"encoding":{"x":{"datum":3},"y":{"datum":0.109},"text":{"value":"Expression"}}},
{"mark":{"type":"rule"},"encoding":{"x":{"datum":5.9},"x2":{"datum":22.3},"y":{"datum":0.035},"color":{"datum":"low"}}},
{"mark":{"type":"rule"},"encoding":{"x":{"datum":5.9},"x2":{"datum":22.3},"y":{"datum":-0.007},"color":{"datum":"high"}}},
{"mark":{"type":"text","align":"left"},"encoding":{"x":{"datum":27},"y":{"datum":0.051},"text":{"value":"low"}}},
{"mark":{"type":"text","align":"left"},"encoding":{"x":{"datum":27},"y":{"datum":0.003},"text":{"value":"high"}}},
{"mark":{"type":"text"},"encoding":{"x":{"datum":43},"y":{"datum":-0.24},"text":{"value":"Number at risk"}}},
{"mark":{"type":"text","align":"left"},"encoding":{"x":{"datum":-50},"y":{"datum":-0.29},"text":{"value":"low"},"color":{"datum":"low"}}},
{"mark":{"type":"text","align":"left"},"encoding":{"x":{"datum":-50},"y":{"datum":-0.355},"text":{"value":"high"},"color":{"datum":"high"}}}]},
{"data":{"name":"risk"},"transform":[{"filter":"datum.p=='B'"}],"layer":[
{"mark":{"type":"text","dx":3},"encoding":{"x":{"field":"t","type":"quantitative"},"y":{"datum":-0.29},"text":{"field":"low"},"color":{"datum":"low"}}},
{"mark":{"type":"text","dx":3},"encoding":{"x":{"field":"t","type":"quantitative"},"y":{"datum":-0.355},"text":{"field":"high"},"color":{"datum":"high"}}}]}
]},
{"width":201,"height":170,"layer":[
{"data":{"name":"km"},"transform":[{"filter":"datum.p=='C'"}],"mark":"line","encoding":{"x":{"field":"t","type":"quantitative","scale":{"domain":[-2.5,248],"nice":false,"zero":false},"axis":{"values":[0,50,100,150,200],"tickCount":20,"title":"Time (months)","titleX":124}},"y":{"field":"s","type":"quantitative","scale":{"domain":[-0.042,1.052],"nice":false,"zero":false},"axis":{"values":[0,0.2,0.4,0.6,0.8,1],"tickCount":20,"format":".1f","title":"Probability","titleY":72,"labelOverlap":false}},"color":{"field":"g","type":"nominal","scale":{"domain":["low","high"],"range":["#000000","#c81e1e"]},"legend":null}}},
{"data":{"name":"cens"},"transform":[{"filter":"datum.p=='C'"}],"mark":"point","encoding":{"x":{"field":"t","type":"quantitative"},"y":{"field":"s","type":"quantitative"},"color":{"field":"g","type":"nominal"}}},
{"data":{"name":"notes"},"transform":[{"filter":"datum.p=='C'"}],"layer":[
{"mark":{"type":"text","align":"left"},"encoding":{"x":{"datum":93},"y":{"datum":0.975},"text":{"field":"hr"}}},
{"mark":{"type":"text","align":"left"},"encoding":{"x":{"datum":93},"y":{"datum":0.912},"text":{"field":"lr"}}},
{"mark":{"type":"text","align":"left","fontSize":13},"encoding":{"x":{"datum":-47},"y":{"datum":1.16},"text":{"field":"letter"}}},
{"mark":{"type":"text"},"encoding":{"x":{"datum":115},"y":{"datum":1.081},"text":{"field":"title"}}},
{"mark":{"type":"text","align":"left"},"encoding":{"x":{"datum":3.7},"y":{"datum":0.12},"text":{"value":"Expression"}}},
{"mark":{"type":"rule"},"encoding":{"x":{"datum":6.2},"x2":{"datum":20.5},"y":{"datum":0.04},"color":{"datum":"low"}}},
{"mark":{"type":"rule"},"encoding":{"x":{"datum":6.2},"x2":{"datum":20.5},"y":{"datum":-0.005},"color":{"datum":"high"}}},
{"mark":{"type":"text","align":"left"},"encoding":{"x":{"datum":24},"y":{"datum":0.058},"text":{"value":"low"}}},
{"mark":{"type":"text","align":"left"},"encoding":{"x":{"datum":24},"y":{"datum":0.007},"text":{"value":"high"}}},
{"mark":{"type":"text"},"encoding":{"x":{"datum":50},"y":{"datum":-0.2},"text":{"value":"Number at risk"}}},
{"mark":{"type":"text","align":"left"},"encoding":{"x":{"datum":-36},"y":{"datum":-0.265},"text":{"value":"low"},"color":{"datum":"low"}}},
{"mark":{"type":"text","align":"left"},"encoding":{"x":{"datum":-36},"y":{"datum":-0.33},"text":{"value":"high"},"color":{"datum":"high"}}}]},
{"data":{"name":"risk"},"transform":[{"filter":"datum.p=='C'"}],"layer":[
{"mark":{"type":"text","dx":4},"encoding":{"x":{"field":"t","type":"quantitative"},"y":{"datum":-0.265},"text":{"field":"low"},"color":{"datum":"low"}}},
{"mark":{"type":"text","dx":4},"encoding":{"x":{"field":"t","type":"quantitative"},"y":{"datum":-0.33},"text":{"field":"high"},"color":{"datum":"high"}}}]}
]},
{"width":201,"height":170,"layer":[
{"data":{"name":"km"},"transform":[{"filter":"datum.p=='D'"}],"mark":"line","encoding":{"x":{"field":"t","type":"quantitative","scale":{"domain":[-3,308],"nice":false,"zero":false},"axis":{"values":[0,50,100,150,200,250,300],"tickCount":20,"title":"Time (months)","titleX":123}},"y":{"field":"s","type":"quantitative","scale":{"domain":[-0.042,1.052],"nice":false,"zero":false},"axis":{"values":[0,0.2,0.4,0.6,0.8,1],"tickCount":20,"format":".1f","title":"Probability","titleY":72,"labelOverlap":false}},"color":{"field":"g","type":"nominal","scale":{"domain":["low","high"],"range":["#000000","#c81e1e"]},"legend":null}}},
{"data":{"name":"cens"},"transform":[{"filter":"datum.p=='D'"}],"mark":"point","encoding":{"x":{"field":"t","type":"quantitative"},"y":{"field":"s","type":"quantitative"},"color":{"field":"g","type":"nominal"}}},
{"data":{"name":"notes"},"transform":[{"filter":"datum.p=='D'"}],"layer":[
{"mark":{"type":"text","align":"left"},"encoding":{"x":{"datum":114},"y":{"datum":0.99},"text":{"field":"hr"}}},
{"mark":{"type":"text","align":"left"},"encoding":{"x":{"datum":114},"y":{"datum":0.92},"text":{"field":"lr"}}},
{"mark":{"type":"text","align":"left","fontSize":13},"encoding":{"x":{"datum":-54},"y":{"datum":1.131},"text":{"field":"letter"}}},
{"mark":{"type":"text"},"encoding":{"x":{"datum":119},"y":{"datum":1.116},"text":{"field":"title"}}},
{"mark":{"type":"text","align":"left"},"encoding":{"x":{"datum":3.2},"y":{"datum":0.112},"text":{"value":"Expression"}}},
{"mark":{"type":"rule"},"encoding":{"x":{"datum":6.3},"x2":{"datum":23.3},"y":{"datum":0.038},"color":{"datum":"low"}}},
{"mark":{"type":"rule"},"encoding":{"x":{"datum":6.3},"x2":{"datum":23.3},"y":{"datum":-0.004},"color":{"datum":"high"}}},
{"mark":{"type":"text","align":"left"},"encoding":{"x":{"datum":28},"y":{"datum":0.05},"text":{"value":"low"}}},
{"mark":{"type":"text","align":"left"},"encoding":{"x":{"datum":28},"y":{"datum":0.002},"text":{"value":"high"}}},
{"mark":{"type":"text"},"encoding":{"x":{"datum":62},"y":{"datum":-0.225},"text":{"value":"Number at risk"}}},
{"mark":{"type":"text","align":"left"},"encoding":{"x":{"datum":-48},"y":{"datum":-0.28},"text":{"value":"low"},"color":{"datum":"low"}}},
{"mark":{"type":"text","align":"left"},"encoding":{"x":{"datum":-48},"y":{"datum":-0.34},"text":{"value":"high"},"color":{"datum":"high"}}}]},
{"data":{"name":"risk"},"transform":[{"filter":"datum.p=='D'"}],"layer":[
{"mark":{"type":"text","dx":3},"encoding":{"x":{"field":"t","type":"quantitative"},"y":{"datum":-0.28},"text":{"field":"low"},"color":{"datum":"low"}}},
{"mark":{"type":"text","dx":3},"encoding":{"x":{"field":"t","type":"quantitative"},"y":{"datum":-0.34},"text":{"field":"high"},"color":{"datum":"high"}}}]}
]},
{"width":201,"height":170,"layer":[
{"data":{"name":"km"},"transform":[{"filter":"datum.p=='E'"}],"mark":"line","encoding":{"x":{"field":"t","type":"quantitative","scale":{"domain":[-2,211],"nice":false,"zero":false},"axis":{"values":[0,50,100,150,200],"tickCount":20,"title":"Time (months)","titleX":94,"titlePadding":-3}},"y":{"field":"s","type":"quantitative","scale":{"domain":[-0.042,1.052],"nice":false,"zero":false},"axis":{"values":[0,0.2,0.4,0.6,0.8,1],"tickCount":20,"format":".1f","title":"Probability","titleY":72,"labelOverlap":false}},"color":{"field":"g","type":"nominal","scale":{"domain":["low","high"],"range":["#000000","#c81e1e"]},"legend":null}}},
{"data":{"name":"cens"},"transform":[{"filter":"datum.p=='E'"}],"mark":"point","encoding":{"x":{"field":"t","type":"quantitative"},"y":{"field":"s","type":"quantitative"},"color":{"field":"g","type":"nominal"}}},
{"data":{"name":"notes"},"transform":[{"filter":"datum.p=='E'"}],"layer":[
{"mark":{"type":"text","align":"left"},"encoding":{"x":{"datum":75},"y":{"datum":0.99},"text":{"field":"hr"}}},
{"mark":{"type":"text","align":"left"},"encoding":{"x":{"datum":75},"y":{"datum":0.92},"text":{"field":"lr"}}},
{"mark":{"type":"text","align":"left","fontSize":13},"encoding":{"x":{"datum":-39},"y":{"datum":1.131},"text":{"field":"letter"}}},
{"mark":{"type":"text"},"encoding":{"x":{"datum":113},"y":{"datum":1.116},"text":{"field":"title"}}},
{"mark":{"type":"text","align":"left"},"encoding":{"x":{"datum":2.2},"y":{"datum":0.112},"text":{"value":"Expression"}}},
{"mark":{"type":"rule"},"encoding":{"x":{"datum":4.4},"x2":{"datum":16},"y":{"datum":0.038},"color":{"datum":"low"}}},
{"mark":{"type":"rule"},"encoding":{"x":{"datum":4.4},"x2":{"datum":16},"y":{"datum":-0.004},"color":{"datum":"high"}}},
{"mark":{"type":"text","align":"left"},"encoding":{"x":{"datum":19.2},"y":{"datum":0.05},"text":{"value":"low"}}},
{"mark":{"type":"text","align":"left"},"encoding":{"x":{"datum":19.2},"y":{"datum":0.002},"text":{"value":"high"}}},
{"mark":{"type":"text"},"encoding":{"x":{"datum":43},"y":{"datum":-0.21},"text":{"value":"Number at risk"}}},
{"mark":{"type":"text","align":"left"},"encoding":{"x":{"datum":-36},"y":{"datum":-0.274},"text":{"value":"low"},"color":{"datum":"low"}}},
{"mark":{"type":"text","align":"left"},"encoding":{"x":{"datum":-36},"y":{"datum":-0.338},"text":{"value":"high"},"color":{"datum":"high"}}}]},
{"data":{"name":"risk"},"transform":[{"filter":"datum.p=='E'"}],"layer":[
{"mark":{"type":"text","dx":3},"encoding":{"x":{"field":"t","type":"quantitative"},"y":{"datum":-0.274},"text":{"field":"low"},"color":{"datum":"low"}}},
{"mark":{"type":"text","dx":3},"encoding":{"x":{"field":"t","type":"quantitative"},"y":{"datum":-0.338},"text":{"field":"high"},"color":{"datum":"high"}}}]}
]},
{"width":201,"height":170,"layer":[
{"data":{"name":"km"},"transform":[{"filter":"datum.p=='F'"}],"mark":"line","encoding":{"x":{"field":"t","type":"quantitative","scale":{"domain":[-4,309],"nice":false,"zero":false},"axis":{"values":[0,50,100,150,200,250,300],"tickCount":20,"title":"Time (months)","titleX":122}},"y":{"field":"s","type":"quantitative","scale":{"domain":[-0.042,1.052],"nice":false,"zero":false},"axis":{"values":[0,0.2,0.4,0.6,0.8,1],"tickCount":20,"format":".1f","title":"Probability","titleY":72,"labelOverlap":false}},"color":{"field":"g","type":"nominal","scale":{"domain":["low","high"],"range":["#000000","#c81e1e"]},"legend":null}}},
{"data":{"name":"cens"},"transform":[{"filter":"datum.p=='F'"}],"mark":"point","encoding":{"x":{"field":"t","type":"quantitative"},"y":{"field":"s","type":"quantitative"},"color":{"field":"g","type":"nominal"}}},
{"data":{"name":"notes"},"transform":[{"filter":"datum.p=='F'"}],"layer":[
{"mark":{"type":"text","align":"left"},"encoding":{"x":{"datum":126},"y":{"datum":1.0},"text":{"field":"hr"}}},
{"mark":{"type":"text","align":"left"},"encoding":{"x":{"datum":126},"y":{"datum":0.93},"text":{"field":"lr"}}},
{"mark":{"type":"text","align":"left","fontSize":13},"encoding":{"x":{"datum":-60},"y":{"datum":1.131},"text":{"field":"letter"}}},
{"mark":{"type":"text"},"encoding":{"x":{"datum":144},"y":{"datum":1.116},"text":{"field":"title"}}},
{"mark":{"type":"text","align":"left"},"encoding":{"x":{"datum":2.2},"y":{"datum":0.112},"text":{"value":"Expression"}}},
{"mark":{"type":"rule"},"encoding":{"x":{"datum":5.3},"x2":{"datum":22.5},"y":{"datum":0.038},"color":{"datum":"low"}}},
{"mark":{"type":"rule"},"encoding":{"x":{"datum":5.3},"x2":{"datum":22.5},"y":{"datum":-0.004},"color":{"datum":"high"}}},
{"mark":{"type":"text","align":"left"},"encoding":{"x":{"datum":27},"y":{"datum":0.05},"text":{"value":"low"}}},
{"mark":{"type":"text","align":"left"},"encoding":{"x":{"datum":27},"y":{"datum":0.002},"text":{"value":"high"}}},
{"mark":{"type":"text"},"encoding":{"x":{"datum":63},"y":{"datum":-0.215},"text":{"value":"Number at risk"}}},
{"mark":{"type":"text","align":"left"},"encoding":{"x":{"datum":-52},"y":{"datum":-0.275},"text":{"value":"low"},"color":{"datum":"low"}}},
{"mark":{"type":"text","align":"left"},"encoding":{"x":{"datum":-52},"y":{"datum":-0.338},"text":{"value":"high"},"color":{"datum":"high"}}}]},
{"data":{"name":"risk"},"transform":[{"filter":"datum.p=='F'"}],"layer":[
{"mark":{"type":"text","dx":3},"encoding":{"x":{"field":"t","type":"quantitative"},"y":{"datum":-0.275},"text":{"field":"low"},"color":{"datum":"low"}}},
{"mark":{"type":"text","dx":3},"encoding":{"x":{"field":"t","type":"quantitative"},"y":{"datum":-0.338},"text":{"field":"high"},"color":{"datum":"high"}}}]}
]},
{"width":201,"height":170,"layer":[
{"data":{"name":"km"},"transform":[{"filter":"datum.p=='G'"}],"mark":"line","encoding":{"x":{"field":"t","type":"quantitative","scale":{"domain":[-3,285],"nice":false,"zero":false},"axis":{"values":[0,50,100,150,200,250],"tickCount":20,"title":"Time (months)","titleX":119}},"y":{"field":"s","type":"quantitative","scale":{"domain":[-0.042,1.052],"nice":false,"zero":false},"axis":{"values":[0,0.2,0.4,0.6,0.8,1],"tickCount":20,"format":".1f","title":"Probability","titleY":72,"labelOverlap":false}},"color":{"field":"g","type":"nominal","scale":{"domain":["low","high"],"range":["#000000","#c81e1e"]},"legend":null}}},
{"data":{"name":"cens"},"transform":[{"filter":"datum.p=='G'"}],"mark":"point","encoding":{"x":{"field":"t","type":"quantitative"},"y":{"field":"s","type":"quantitative"},"color":{"field":"g","type":"nominal"}}},
{"data":{"name":"notes"},"transform":[{"filter":"datum.p=='G'"}],"layer":[
{"mark":{"type":"text","align":"left"},"encoding":{"x":{"datum":101},"y":{"datum":0.995},"text":{"field":"hr"}}},
{"mark":{"type":"text","align":"left"},"encoding":{"x":{"datum":101},"y":{"datum":0.925},"text":{"field":"lr"}}},
{"mark":{"type":"text","align":"left","fontSize":13},"encoding":{"x":{"datum":-50},"y":{"datum":1.16},"text":{"field":"letter"}}},
{"mark":{"type":"text"},"encoding":{"x":{"datum":137},"y":{"datum":1.156},"text":{"field":"title"}}},
{"mark":{"type":"text","align":"left"},"encoding":{"x":{"datum":2.7},"y":{"datum":0.112},"text":{"value":"Expression"}}},
{"mark":{"type":"rule"},"encoding":{"x":{"datum":5.6},"x2":{"datum":21.4},"y":{"datum":0.038},"color":{"datum":"low"}}},
{"mark":{"type":"rule"},"encoding":{"x":{"datum":5.6},"x2":{"datum":21.4},"y":{"datum":-0.004},"color":{"datum":"high"}}},
{"mark":{"type":"text","align":"left"},"encoding":{"x":{"datum":26},"y":{"datum":0.05},"text":{"value":"low"}}},
{"mark":{"type":"text","align":"left"},"encoding":{"x":{"datum":26},"y":{"datum":0.002},"text":{"value":"high"}}},
{"mark":{"type":"text"},"encoding":{"x":{"datum":57},"y":{"datum":-0.207},"text":{"value":"Number at risk"}}},
{"mark":{"type":"text","align":"left"},"encoding":{"x":{"datum":-49},"y":{"datum":-0.265},"text":{"value":"low"},"color":{"datum":"low"}}},
{"mark":{"type":"text","align":"left"},"encoding":{"x":{"datum":-49},"y":{"datum":-0.318},"text":{"value":"high"},"color":{"datum":"high"}}}]},
{"data":{"name":"risk"},"transform":[{"filter":"datum.p=='G'"}],"layer":[
{"mark":{"type":"text","dx":3},"encoding":{"x":{"field":"t","type":"quantitative"},"y":{"datum":-0.265},"text":{"field":"low"},"color":{"datum":"low"}}},
{"mark":{"type":"text","dx":3},"encoding":{"x":{"field":"t","type":"quantitative"},"y":{"datum":-0.318},"text":{"field":"high"},"color":{"datum":"high"}}}]}
]},
{"width":201,"height":170,"layer":[
{"data":{"name":"km"},"transform":[{"filter":"datum.p=='H'"}],"mark":"line","encoding":{"x":{"field":"t","type":"quantitative","scale":{"domain":[-2,211],"nice":false,"zero":false},"axis":{"values":[0,50,100,150,200],"tickCount":20,"title":"Time (months)","titleX":123}},"y":{"field":"s","type":"quantitative","scale":{"domain":[-0.042,1.052],"nice":false,"zero":false},"axis":{"values":[0,0.2,0.4,0.6,0.8,1],"tickCount":20,"format":".1f","title":"Probability","titleY":72,"labelOverlap":false}},"color":{"field":"g","type":"nominal","scale":{"domain":["low","high"],"range":["#000000","#c81e1e"]},"legend":null}}},
{"data":{"name":"cens"},"transform":[{"filter":"datum.p=='H'"}],"mark":"point","encoding":{"x":{"field":"t","type":"quantitative"},"y":{"field":"s","type":"quantitative"},"color":{"field":"g","type":"nominal"}}},
{"data":{"name":"notes"},"transform":[{"filter":"datum.p=='H'"}],"layer":[
{"mark":{"type":"text","align":"left"},"encoding":{"x":{"datum":80},"y":{"datum":0.988},"text":{"field":"hr"}}},
{"mark":{"type":"text","align":"left"},"encoding":{"x":{"datum":80},"y":{"datum":0.907},"text":{"field":"lr"}}},
{"mark":{"type":"text","align":"left","fontSize":13},"encoding":{"x":{"datum":-39},"y":{"datum":1.16},"text":{"field":"letter"}}},
{"mark":{"type":"text"},"encoding":{"x":{"datum":101},"y":{"datum":1.156},"text":{"field":"title"}}},
{"mark":{"type":"text","align":"left"},"encoding":{"x":{"datum":2.2},"y":{"datum":0.112},"text":{"value":"Expression"}}},
{"mark":{"type":"rule"},"encoding":{"x":{"datum":4.4},"x2":{"datum":16},"y":{"datum":0.038},"color":{"datum":"low"}}},
{"mark":{"type":"rule"},"encoding":{"x":{"datum":4.4},"x2":{"datum":16},"y":{"datum":-0.004},"color":{"datum":"high"}}},
{"mark":{"type":"text","align":"left"},"encoding":{"x":{"datum":19.2},"y":{"datum":0.05},"text":{"value":"low"}}},
{"mark":{"type":"text","align":"left"},"encoding":{"x":{"datum":19.2},"y":{"datum":0.002},"text":{"value":"high"}}},
{"mark":{"type":"text"},"encoding":{"x":{"datum":42},"y":{"datum":-0.207},"text":{"value":"Number at risk"}}},
{"mark":{"type":"text","align":"left"},"encoding":{"x":{"datum":-36},"y":{"datum":-0.265},"text":{"value":"low"},"color":{"datum":"low"}}},
{"mark":{"type":"text","align":"left"},"encoding":{"x":{"datum":-36},"y":{"datum":-0.318},"text":{"value":"high"},"color":{"datum":"high"}}}]},
{"data":{"name":"risk"},"transform":[{"filter":"datum.p=='H'"}],"layer":[
{"mark":{"type":"text","dx":3},"encoding":{"x":{"field":"t","type":"quantitative"},"y":{"datum":-0.265},"text":{"field":"low"},"color":{"datum":"low"}}},
{"mark":{"type":"text","dx":3},"encoding":{"x":{"field":"t","type":"quantitative"},"y":{"datum":-0.318},"text":{"field":"high"},"color":{"datum":"high"}}}]}
]},
{"width":201,"height":170,"layer":[
{"data":{"name":"km"},"transform":[{"filter":"datum.p=='I'"}],"mark":"line","encoding":{"x":{"field":"t","type":"quantitative","scale":{"domain":[-3.5,287],"nice":false,"zero":false},"axis":{"values":[0,50,100,150,200,250],"tickCount":20,"title":"Time (months)","titleX":124}},"y":{"field":"s","type":"quantitative","scale":{"domain":[-0.042,1.052],"nice":false,"zero":false},"axis":{"values":[0,0.2,0.4,0.6,0.8,1],"tickCount":20,"format":".1f","title":"Probability","titleY":72,"labelOverlap":false}},"color":{"field":"g","type":"nominal","scale":{"domain":["low","high"],"range":["#000000","#c81e1e"]},"legend":null}}},
{"data":{"name":"cens"},"transform":[{"filter":"datum.p=='I'"}],"mark":"point","encoding":{"x":{"field":"t","type":"quantitative"},"y":{"field":"s","type":"quantitative"},"color":{"field":"g","type":"nominal"}}},
{"data":{"name":"notes"},"transform":[{"filter":"datum.p=='I'"}],"layer":[
{"mark":{"type":"text","align":"left"},"encoding":{"x":{"datum":111},"y":{"datum":0.985},"text":{"field":"hr"}}},
{"mark":{"type":"text","align":"left"},"encoding":{"x":{"datum":111},"y":{"datum":0.914},"text":{"field":"lr"}}},
{"mark":{"type":"text","align":"left","fontSize":13},"encoding":{"x":{"datum":-55},"y":{"datum":1.16},"text":{"field":"letter"}}},
{"mark":{"type":"text"},"encoding":{"x":{"datum":140},"y":{"datum":1.156},"text":{"field":"title"}}},
{"mark":{"type":"text","align":"left"},"encoding":{"x":{"datum":2.3},"y":{"datum":0.112},"text":{"value":"Expression"}}},
{"mark":{"type":"rule"},"encoding":{"x":{"datum":5.2},"x2":{"datum":21.1},"y":{"datum":0.038},"color":{"datum":"low"}}},
{"mark":{"type":"rule"},"encoding":{"x":{"datum":5.2},"x2":{"datum":21.1},"y":{"datum":-0.004},"color":{"datum":"high"}}},
{"mark":{"type":"text","align":"left"},"encoding":{"x":{"datum":25.4},"y":{"datum":0.05},"text":{"value":"low"}}},
{"mark":{"type":"text","align":"left"},"encoding":{"x":{"datum":25.4},"y":{"datum":0.002},"text":{"value":"high"}}},
{"mark":{"type":"text"},"encoding":{"x":{"datum":59},"y":{"datum":-0.207},"text":{"value":"Number at risk"}}},
{"mark":{"type":"text","align":"left"},"encoding":{"x":{"datum":-48},"y":{"datum":-0.265},"text":{"value":"low"},"color":{"datum":"low"}}},
{"mark":{"type":"text","align":"left"},"encoding":{"x":{"datum":-48},"y":{"datum":-0.318},"text":{"value":"high"},"color":{"datum":"high"}}}]},
{"data":{"name":"risk"},"transform":[{"filter":"datum.p=='I'"}],"layer":[
{"mark":{"type":"text","dx":3},"encoding":{"x":{"field":"t","type":"quantitative"},"y":{"datum":-0.265},"text":{"field":"low"},"color":{"datum":"low"}}},
{"mark":{"type":"text","dx":3},"encoding":{"x":{"field":"t","type":"quantitative"},"y":{"datum":-0.318},"text":{"field":"high"},"color":{"datum":"high"}}}]}
]}
],
"config":{
"font":"Liberation Sans",
"view":{"stroke":"#000000","strokeWidth":1},
"axis":{"domain":false,"grid":false,"tickColor":"#000000","tickSize":5,"tickWidth":1,"labelColor":"#000000","labelFont":"Liberation Sans","labelFontSize":12,"labelFontWeight":"bold","labelFlush":false,"labelOverlap":false,"labelPadding":0,"titleColor":"#000000","titleFont":"Liberation Sans","titleFontSize":12,"titleFontWeight":"bold"},
"axisX":{"titlePadding":0},
"axisY":{"labelAngle":-90,"labelPadding":4,"titlePadding":-2,"labelOverlap":false},
"line":{"strokeWidth":1.2,"interpolate":"step-after"},
"point":{"filled":false,"opacity":1,"size":30,"strokeWidth":1,"shape":"M-1,0H1M0,-1V1"},
"rule":{"strokeWidth":1.5},
"text":{"font":"Liberation Sans","fontWeight":"bold","fontSize":12,"color":"#000000"}
}
}
